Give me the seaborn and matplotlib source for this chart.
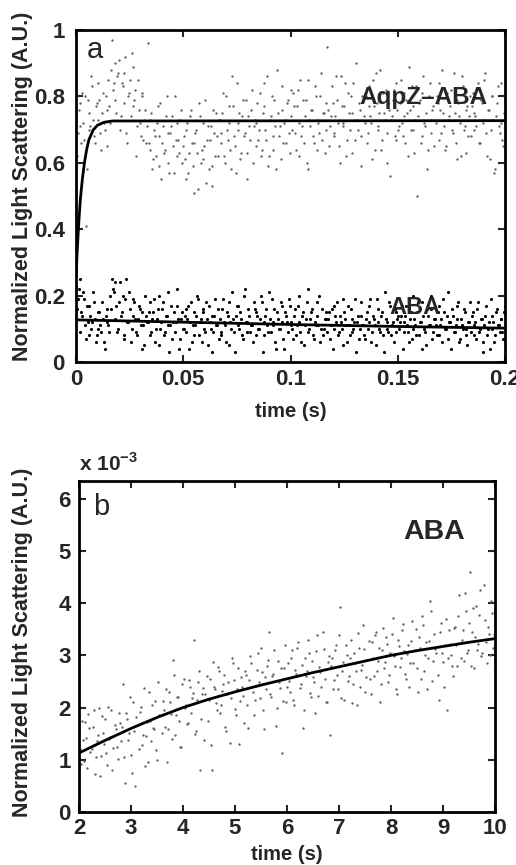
import numpy as np
import pandas as pd
import matplotlib
matplotlib.use('Agg')
import matplotlib.pyplot as plt
import seaborn as sns

sns.set_style('ticks')
plt.rcParams['font.family'] = ['Liberation Sans', 'DejaVu Sans']
plt.rcParams['mathtext.fontset'] = 'custom'
plt.rcParams['mathtext.bf'] = 'Liberation Sans:bold'
plt.rcParams['mathtext.rm'] = 'Liberation Sans:bold'

# ---- panel a: light scattering, 0 - 0.2 s (x100) ----
# two interleaved sets of samples per trace
aqpz_aba = [74, 69, 78, 66, 72, 80, 58, 75, 71, 83, 68, 77, 73, 79, 64, 81, 70, 76, 85, 72,
            97, 84, 79, 86, 91, 74, 83, 87, 69, 80, 85, 93, 77, 82, 71, 76, 68, 81, 73, 66,
            96, 64, 75, 61, 68, 72, 59, 78, 66, 63, 74, 69, 57, 71, 65, 80, 62, 67, 73, 60,
            68, 55, 72, 63, 76, 59, 66, 70, 52, 74, 64, 61, 79, 67, 58, 71, 53, 69, 75, 62,
            73, 66, 81, 60, 70, 77, 64, 86, 68, 57, 72, 75, 63, 79, 69, 55, 74, 67, 82, 71,
            65, 78, 70, 62, 75, 84, 67, 59, 73, 80, 64, 71, 88, 68, 61, 76, 72, 66, 79, 63,
            74, 81, 69, 77, 62, 85, 71, 66, 79, 58, 73, 76, 68, 83, 64, 72, 80, 67, 75, 70,
            95, 65, 74, 78, 69, 86, 72, 60, 77, 71, 84, 67, 75, 80, 63, 73, 90, 70, 76, 68,
            79, 72, 66, 83, 74, 61, 77, 87, 70, 75, 64, 81, 73, 69, 78, 56, 74, 82, 67, 76,
            71, 85, 68, 74, 79, 62, 76, 83, 70, 73, 50, 78, 66, 81, 72, 75, 64, 84, 69, 77,
            73, 80, 67, 76, 88, 71, 65, 79, 74, 82, 69, 75, 61, 78, 72, 86, 70, 63, 77, 74,
            68, 81, 75, 71, 84, 66, 78, 73, 87, 62, 76, 70, 80, 57, 74, 83, 69, 72, 65, 79]
aqpz_aba_2 = [62, 76, 71, 81, 67, 41, 79, 70, 86, 73, 66, 78, 84, 69, 75, 72, 80, 65, 77, 88,
              82, 90, 75, 87, 70, 84, 78, 92, 66, 81, 74, 89, 79, 62, 85, 72, 80, 67, 76, 71,
              66, 73, 58, 70, 62, 77, 68, 55, 71, 64, 80, 60, 69, 74, 57, 67, 72, 63, 76, 65,
              61, 70, 57, 74, 66, 51, 69, 63, 78, 60, 72, 65, 54, 71, 67, 59, 76, 62, 68, 73,
              69, 75, 62, 80, 67, 72, 58, 77, 65, 84, 70, 61, 74, 68, 79, 63, 71, 76, 60, 73,
              72, 67, 81, 64, 77, 70, 86, 62, 74, 68, 79, 58, 75, 71, 83, 66, 73, 78, 69, 82,
              70, 77, 64, 82, 72, 68, 79, 74, 60, 85, 71, 76, 66, 80, 73, 69, 87, 75, 63, 78,
              76, 71, 83, 68, 74, 79, 65, 86, 72, 77, 62, 81, 70, 75, 84, 67, 73, 78, 59, 80,
              74, 80, 69, 77, 72, 85, 64, 78, 71, 88, 67, 75, 82, 60, 76, 73, 79, 68, 84, 70,
              78, 72, 81, 66, 75, 89, 70, 77, 63, 83, 74, 79, 68, 86, 71, 58, 80, 73, 76, 65,
              72, 78, 84, 69, 75, 64, 81, 73, 77, 70, 87, 66, 79, 74, 62, 83, 71, 76, 68, 80,
              77, 70, 74, 82, 66, 79, 72, 85, 69, 76, 61, 80, 73, 58, 78, 71, 84, 67, 75, 55]
aba_a = [23, 19, 25, 15, 21, 11, 17, 8, 14, 12, 18, 6, 10, 15, 9, 13, 4, 16, 11, 20,
         25, 21, 24, 9, 18, 14, 20, 7, 25, 12, 16, 10, 19, 13, 8, 17, 11, 15, 5, 14,
         12, 18, 9, 15, 6, 13, 20, 10, 16, 8, 14, 11, 3, 17, 12, 9, 22, 13, 7, 15,
         10, 16, 13, 4, 18, 11, 8, 14, 19, 12, 6, 15, 9, 13, 17, 10, 3, 14, 11, 16,
         13, 8, 19, 11, 15, 5, 12, 21, 9, 14, 17, 10, 13, 7, 22, 12, 16, 9, 11, 18,
         8, 14, 10, 20, 3, 12, 16, 9, 13, 19, 11, 6, 15, 10, 18, 12, 4, 14, 9, 17,
         12, 7, 16, 11, 20, 9, 14, 5, 13, 22, 10, 15, 8, 12, 18, 11, 6, 16, 10, 13,
         9, 15, 11, 4, 17, 12, 8, 14, 10, 19, 13, 6, 11, 16, 9, 12, 3, 14, 10, 18,
         11, 7, 15, 12, 19, 9, 13, 5, 16, 10, 14, 8, 21, 12, 9, 17, 11, 6, 15, 13,
         10, 14, 4, 12, 17, 9, 13, 7, 20, 11, 15, 8, 12, 18, 10, 5, 14, 11, 16, 9,
         13, 8, 17, 11, 6, 15, 10, 21, 12, 4, 14, 9, 13, 18, 7, 11, 16, 10, 5, 12,
         9, 15, 11, 7, 18, 10, 13, 3, 14, 8, 12, 19, 10, 6, 15, 11, 9, 13, 7, 17]
aba_a_2 = [16, 22, 9, 14, 19, 7, 12, 17, 10, 21, 13, 8, 15, 11, 18, 6, 14, 12, 9, 16,
           22, 13, 17, 10, 24, 15, 8, 19, 12, 21, 6, 14, 18, 9, 13, 16, 4, 11, 20, 12,
           15, 8, 13, 19, 10, 16, 5, 12, 18, 9, 14, 21, 11, 7, 15, 12, 17, 4, 13, 10,
           14, 9, 17, 12, 6, 15, 11, 20, 8, 13, 16, 10, 18, 5, 12, 14, 9, 19, 11, 7,
           9, 16, 12, 6, 14, 18, 10, 13, 3, 17, 11, 15, 8, 20, 12, 9, 14, 11, 6, 16,
           15, 10, 13, 18, 8, 14, 11, 21, 9, 12, 16, 4, 13, 10, 17, 7, 15, 12, 19, 11,
           10, 14, 8, 17, 12, 6, 15, 11, 18, 9, 13, 16, 7, 11, 14, 20, 10, 8, 13, 15,
           13, 7, 16, 10, 14, 18, 9, 12, 5, 15, 11, 17, 8, 13, 10, 19, 12, 7, 14, 11,
           8, 13, 10, 17, 6, 14, 11, 19, 12, 9, 15, 3, 13, 10, 18, 8, 12, 16, 9, 14,
           12, 17, 9, 14, 11, 6, 15, 10, 13, 8, 18, 12, 4, 14, 9, 16, 11, 20, 7, 13,
           11, 15, 8, 13, 19, 10, 14, 7, 12, 16, 9, 11, 17, 6, 13, 10, 15, 8, 12, 18,
           14, 8, 12, 16, 9, 13, 6, 11, 17, 10, 4, 14, 12, 8, 16, 11, 13, 9, 15, 10]

# fitted curves
aqpz_fit_t = [0, 0.0005, 0.001, 0.0015, 0.002, 0.0025, 0.003, 0.004, 0.005, 0.006,
              0.008, 0.010, 0.013, 0.017, 0.2]
aqpz_fit_y = [0.25, 0.325, 0.388, 0.44, 0.487, 0.522, 0.553, 0.603, 0.641, 0.669,
              0.699, 0.713, 0.722, 0.726, 0.727]
aba_fit_t = [0, 0.05, 0.1, 0.15, 0.2]
aba_fit_y = [0.127, 0.120, 0.113, 0.107, 0.102]

# ---- panel b: ABA, 2 - 10 s (units of 1e-3) ----
aba_b = [1.55, 0.92, 1.38, 1.72, 0.85, 1.60, 1.21, 1.95, 1.05, 1.48, 0.68, 1.83, 1.30, 1.12, 2.02, 1.44, 0.80, 1.67, 1.25, 1.90,
         1.35, 2.45, 0.55, 1.78, 1.52, 1.10, 2.10, 0.50, 1.66, 1.92, 1.28, 2.38, 1.45, 0.95, 1.74, 2.05, 1.58, 1.18, 2.48, 1.85,
         2.12, 1.62, 0.95, 2.30, 1.88, 2.92, 1.48, 2.20, 1.75, 1.25, 2.55, 2.05, 1.70, 2.40, 2.18, 3.30, 1.55, 2.48, 0.80, 2.25,
         1.38, 2.60, 2.15, 1.28, 2.88, 2.35, 1.95, 2.70, 2.05, 2.45, 1.62, 2.25, 1.32, 2.95, 2.52, 1.85, 2.75, 2.12, 2.40, 1.70,
         2.62, 1.60, 2.98, 2.30, 2.15, 2.72, 2.48, 3.15, 1.95, 2.58, 2.80, 3.45, 2.20, 2.65, 1.65, 2.90, 2.38, 1.12, 2.75, 2.10,
         2.85, 2.30, 3.10, 2.05, 2.65, 3.25, 2.45, 1.60, 2.95, 2.70, 3.05, 2.20, 2.58, 1.90, 3.38, 2.78, 2.40, 3.12, 2.10, 2.88,
         1.48, 2.95, 2.52, 3.20, 2.35, 3.92, 2.70, 2.15, 3.00, 2.60, 3.30, 2.45, 2.85, 2.05, 3.15, 2.72, 3.58, 2.30, 2.92, 2.55,
         3.25, 2.60, 3.45, 2.90, 2.10, 3.10, 2.75, 3.35, 2.48, 3.05, 3.72, 2.80, 2.25, 3.18, 2.95, 3.60, 2.65, 3.02, 2.40, 3.28,
         2.85, 3.50, 2.30, 3.15, 3.75, 2.70, 3.25, 2.95, 4.05, 2.50, 3.40, 3.05, 2.15, 3.62, 2.88, 3.20, 1.95, 3.48, 3.00, 2.60,
         3.55, 2.80, 4.15, 3.30, 2.90, 3.85, 3.10, 4.60, 3.45, 2.75, 3.95, 3.22, 4.25, 3.05, 3.68, 2.85, 3.40, 4.05, 3.15, 3.60]
aba_b_2 = [1.20, 1.75, 0.98, 1.42, 1.88, 1.15, 1.62, 0.72, 1.35, 2.00, 1.08, 1.52, 1.78, 0.90, 1.40, 1.95, 1.22, 1.58, 1.02, 1.70,
           1.62, 1.05, 1.90, 1.38, 2.20, 0.75, 1.55, 1.82, 1.20, 2.02, 1.48, 0.88, 1.72, 2.30, 1.35, 1.60, 2.12, 1.00, 1.85, 1.52,
           1.95, 2.35, 1.58, 2.10, 1.40, 2.62, 1.85, 2.20, 1.25, 2.45, 2.00, 1.68, 2.52, 1.90, 2.28, 1.50, 2.15, 2.70, 1.78, 2.38,
           2.25, 1.75, 2.55, 0.80, 2.40, 2.08, 2.78, 1.90, 2.32, 2.62, 1.55, 2.48, 2.18, 2.85, 1.98, 2.35, 1.30, 2.58, 2.22, 2.70,
           2.05, 2.52, 2.85, 1.85, 2.42, 3.05, 2.18, 2.68, 1.58, 2.35, 2.92, 2.25, 2.60, 3.10, 2.00, 2.48, 2.75, 2.12, 3.20, 2.40,
           2.50, 2.95, 2.15, 2.72, 3.15, 2.38, 2.82, 1.95, 2.60, 3.30, 2.28, 2.90, 2.48, 3.08, 2.22, 2.68, 3.45, 2.55, 2.10, 2.98,
           2.80, 2.35, 3.10, 2.62, 3.38, 2.18, 2.88, 3.20, 2.50, 2.95, 2.08, 3.05, 2.70, 3.42, 2.40, 2.82, 3.12, 2.58, 3.28, 2.25,
           2.95, 3.38, 2.70, 3.15, 2.45, 3.52, 2.88, 3.22, 2.62, 3.40, 2.98, 2.35, 3.30, 2.78, 3.48, 3.08, 2.55, 3.20, 2.85, 3.65,
           3.10, 2.75, 3.35, 2.55, 3.58, 3.00, 2.35, 3.28, 3.85, 2.90, 3.12, 2.62, 3.45, 3.05, 2.40, 3.70, 2.95, 3.22, 2.80, 3.52,
           3.20, 3.75, 2.95, 3.48, 4.20, 3.05, 3.62, 2.80, 3.90, 3.35, 3.10, 3.78, 2.98, 4.35, 3.25, 3.55, 3.00, 3.82, 3.40, 3.65]
b_fit_t = [2, 2.5, 3, 3.5, 4, 4.5, 5, 5.5, 6, 6.5, 7, 7.5, 8, 8.5, 9, 9.5, 10]
b_fit_y = [1.13, 1.37, 1.60, 1.81, 2.00, 2.16, 2.30, 2.43, 2.55, 2.67, 2.78, 2.89, 3.00, 3.09, 3.17, 3.25, 3.32]

a_xticks = [0, 0.05, 0.1, 0.15, 0.2]
a_xlabels = ['0', '0.05', '0.1', '0.15', '0.2']
a_yticks = [0, 0.2, 0.4, 0.6, 0.8, 1]
a_ylabels = ['0', '0.2', '0.4', '0.6', '0.8', '1']
b_xticks = [2, 3, 4, 5, 6, 7, 8, 9, 10]
b_yticks = [0, 1, 2, 3, 4, 5, 6]

# sampling clock of the recordings (second set sits half a step later)
n_a = len(aqpz_aba)
step_a = 0.2 / (n_a - 1)
t_a1 = np.linspace(0, 0.2, n_a)
t_a2 = t_a1 + step_a / 2
df_a = pd.DataFrame({'t': np.concatenate([t_a1, t_a2]),
                     'aqpz': np.array(aqpz_aba + aqpz_aba_2) / 100,
                     'aba': np.array(aba_a + aba_a_2) / 100})
df_a = df_a[df_a['t'] <= 0.2]
n_b = len(aba_b)
t_b1 = np.linspace(2, 10, n_b)
t_b2 = t_b1 + 8 / (n_b - 1) / 2
df_b = pd.DataFrame({'t': np.concatenate([t_b1, t_b2]), 'aba': aba_b + aba_b_2})
df_b = df_b[df_b['t'] <= 10]

fig = plt.figure(figsize=(5.16, 8.65), dpi=100)
ax1 = fig.add_axes([0.1473, 0.5815, 0.8314, 0.3838])
ax2 = fig.add_axes([0.1531, 0.0613, 0.8062, 0.3827])

tick_fs = 16
lab_fs = 15.5

# panel a
sns.scatterplot(data=df_a, x='t', y='aqpz', s=3, color='0.4', linewidth=0, ax=ax1)
sns.scatterplot(data=df_a, x='t', y='aba', s=5, color='k', linewidth=0, ax=ax1)
sns.lineplot(x=aqpz_fit_t, y=aqpz_fit_y, color='k', linewidth=2, ax=ax1)
sns.lineplot(x=aba_fit_t, y=aba_fit_y, color='k', linewidth=2, ax=ax1)
ax1.set_xlim(0, 0.2)
ax1.set_ylim(0, 1)
ax1.set_xticks(a_xticks)
ax1.set_xticklabels(a_xlabels)
ax1.set_yticks(a_yticks)
ax1.set_yticklabels(a_ylabels)
ax1.set_xlabel('time (s)', fontsize=14.5, fontweight='bold', labelpad=9)
ax1.set_ylabel('Normalized Light Scattering (A.U.)', fontsize=lab_fs, fontweight='bold')
ax1.yaxis.set_label_coords(-0.100, 0.53)
ax1.text(0.044, 0.94, 'a', transform=ax1.transAxes, fontsize=21, ha='center', va='center')
ax1.text(0.162, 0.798, 'AqpZ\u2013ABA', fontsize=17.5, fontweight='bold', ha='center', va='center')
ax1.text(0.158, 0.163, 'ABA', fontsize=17, fontweight='bold', ha='center', va='center')

# panel b
sns.scatterplot(data=df_b, x='t', y='aba', s=3, color='0.4', linewidth=0, ax=ax2)
sns.lineplot(x=b_fit_t, y=b_fit_y, color='k', linewidth=2, ax=ax2)
ax2.set_xlim(2, 10)
ax2.set_ylim(0, 6.34)
ax2.set_xticks(b_xticks)
ax2.set_yticks(b_yticks)
ax2.set_xlabel('time (s)', fontsize=14.5, fontweight='bold', labelpad=5)
ax2.set_ylabel('Normalized Light Scattering (A.U.)', fontsize=lab_fs, fontweight='bold')
ax2.yaxis.set_label_coords(-0.111, 0.514)
ax2.text(0.053, 0.92, 'b', transform=ax2.transAxes, fontsize=21, ha='center', va='center')
ax2.text(8.83, 5.36, 'ABA', fontsize=20.5, fontweight='bold', ha='center', va='center')
ax2.text(0.0, 1.02, r'x 10$^{\mathbf{-3}}$', transform=ax2.transAxes, fontsize=15,
         fontweight='bold', ha='left', va='bottom')

for ax, pad in ((ax1, 8), (ax2, 6)):
    ax.tick_params(direction='in', top=True, right=True, length=5, width=1.5,
                   labelsize=tick_fs, pad=pad)
    for lab in ax.get_xticklabels() + ax.get_yticklabels():
        lab.set_fontweight('bold')
    for sp in ax.spines.values():
        sp.set_visible(True)
        sp.set_linewidth(2)
        sp.set_color('k')
ax1.tick_params(axis='x', pad=5)
ax2.tick_params(axis='x', pad=4)

plt.savefig('out.png', dpi=100)
